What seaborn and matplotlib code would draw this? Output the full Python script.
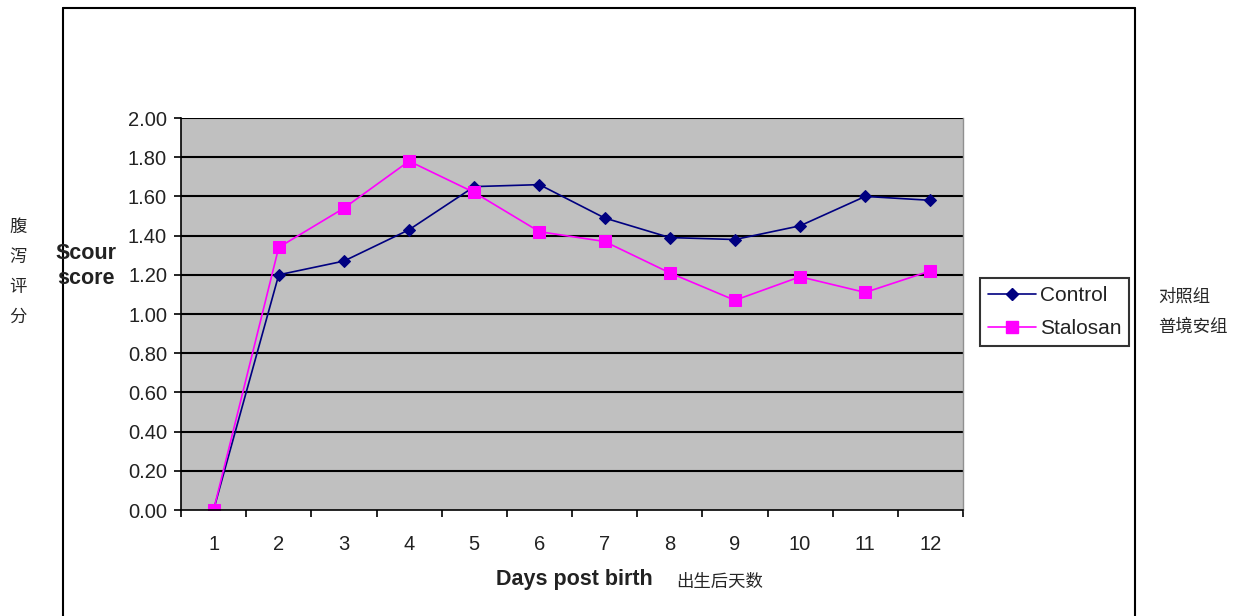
import pandas as pd
import matplotlib
matplotlib.use("Agg")
import matplotlib.pyplot as plt
import seaborn as sns
from matplotlib.lines import Line2D

days = list(range(1, 13))
control = [0.00, 1.20, 1.27, 1.43, 1.65, 1.66, 1.49, 1.39, 1.38, 1.45, 1.60, 1.58]
stalosan = [0.00, 1.34, 1.54, 1.78, 1.62, 1.42, 1.37, 1.21, 1.07, 1.19, 1.11, 1.22]
y_ticks = [0.0, 0.2, 0.4, 0.6, 0.8, 1.0, 1.2, 1.4, 1.6, 1.8, 2.0]

df = pd.DataFrame({"day": days, "Control": control, "Stalosan": stalosan})

sns.set_style("white")
plt.rcParams['font.family'] = ['Liberation Sans', 'Noto Sans CJK SC', 'DejaVu Sans']
cjk = ['Noto Sans CJK SC', 'DejaVu Sans']

fig = plt.figure(figsize=(12.38, 6.16), dpi=100)
ax = fig.add_axes([181/1238, 1 - 510/616, (963 - 181)/1238, (510 - 118)/616])
ax.set_facecolor("#c0c0c0")

sns.lineplot(data=df, x="day", y="Control", ax=ax, color="#000080", marker="D",
             markersize=6, markeredgecolor="#000080", linewidth=1.2, label="Control")
sns.lineplot(data=df, x="day", y="Stalosan", ax=ax, color="#ff00ff", marker="s",
             markersize=8, markeredgecolor="#ff00ff", linewidth=1.2, label="Stalosan")
ax.get_legend().remove()

ax.set_xlim(0.5, 12.5)
ax.set_ylim(0, 2.0)
ax.set_yticks(y_ticks)
ax.set_yticklabels([f"{v:.2f}" for v in y_ticks], fontsize=14.5, color="#222222")
ax.set_xticks(days)
ax.set_xticklabels([str(d) for d in days], fontsize=14.5, color="#222222")
ax.set_xticks([d + 0.5 for d in range(0, 13)], minor=True)
ax.tick_params(axis="x", which="major", bottom=True, length=0, pad=18)
ax.tick_params(axis="x", which="minor", bottom=True, length=5, width=1.2,
               color="black", direction="out")
ax.tick_params(axis="y", left=True, length=5, width=1.2, color="black",
               direction="out", pad=5)
for v in y_ticks[1:]:
    ax.axhline(v, color="black", linewidth=1.5, zorder=1)
for side in ["left", "bottom"]:
    ax.spines[side].set_color("black")
    ax.spines[side].set_linewidth(1.2)
ax.spines["top"].set_visible(False)
ax.spines["right"].set_color("#909090")
ax.spines["right"].set_linewidth(1.0)
ax.set_xlabel("")
ax.set_ylabel("")

# outer chart frame
W, H = 1238, 616
fig.add_artist(Line2D([63/W, 63/W], [0, 1 - 8/H], color="black", lw=1.5))
fig.add_artist(Line2D([63/W, 1135/W], [1 - 8/H, 1 - 8/H], color="black", lw=1.5))
fig.add_artist(Line2D([1135/W, 1135/W], [0, 1 - 8/H], color="black", lw=1.5))

handles = [
    Line2D([], [], color="#000080", marker="D", markersize=6, lw=1.2),
    Line2D([], [], color="#ff00ff", marker="s", markersize=8, lw=1.2),
]
leg = fig.legend(handles, ["Control", "Stalosan"], loc="upper left",
                 bbox_to_anchor=(980/W, 1 - 278/H), frameon=True, fancybox=False,
                 edgecolor="black", fontsize=15, handlelength=2.3, handletextpad=0.2,
                 borderpad=0.38, labelspacing=0.7, borderaxespad=0)
leg.get_frame().set_linewidth(1.5)
for t in leg.get_texts():
    t.set_color("#222222")

fig.text(86/W, 1 - 266/H, "Scour\nscore", ha="center", va="center",
         fontsize=15.5, fontweight="bold", linespacing=1.3, color="#222222")
fig.text(574/W, 1 - 580/H, "Days post birth", ha="center", va="center",
         fontsize=15.5, fontweight="bold", color="#222222")
fig.text(720/W, 1 - 582/H, "出生后天数", ha="center", va="center", fontsize=12.5, family=cjk)
for i, ch in enumerate("腹泻评分"):
    fig.text(18/W, 1 - (227 + 30*i)/H, ch, ha="center", va="center", fontsize=12.5, family=cjk)
fig.text(1158/W, 1 - 297/H, "对照组", ha="left", va="center", fontsize=12.5, family=cjk)
fig.text(1158/W, 1 - 327/H, "普境安组", ha="left", va="center", fontsize=12.5, family=cjk)

fig.savefig("out.png", dpi=100)
